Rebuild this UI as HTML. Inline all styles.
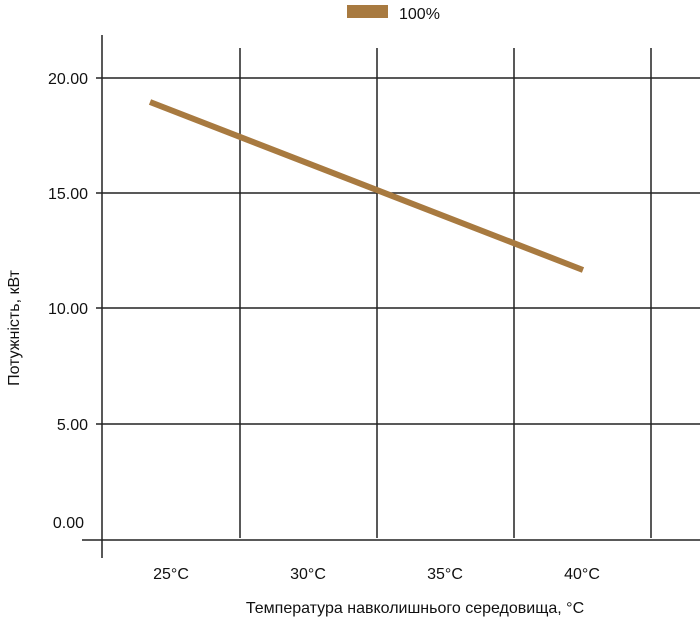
<!DOCTYPE html>
<html><head><style>body{margin:0;background:#fff}</style></head><body>
<svg width="700" height="624" xmlns="http://www.w3.org/2000/svg" font-family="Liberation Sans, sans-serif" font-size="16" fill="#111">
<rect width="700" height="624" fill="#fff"/>
<rect x="347" y="5" width="41" height="13" fill="#a87a40"/>
<text x="399" y="19">100%</text>
<g stroke="#222" stroke-width="1.5">
<line x1="96" y1="78" x2="700" y2="78"/>
<line x1="96" y1="193" x2="700" y2="193"/>
<line x1="96" y1="308" x2="700" y2="308"/>
<line x1="96" y1="424" x2="700" y2="424"/>
<line x1="82" y1="540" x2="700" y2="540"/>
<line x1="102" y1="35" x2="102" y2="558"/>
<line x1="240" y1="48" x2="240" y2="538"/>
<line x1="377" y1="48" x2="377" y2="538"/>
<line x1="514" y1="48" x2="514" y2="538"/>
<line x1="651" y1="48" x2="651" y2="538"/>
</g>
<line x1="150" y1="102" x2="583" y2="270" stroke="#a87a40" stroke-width="6"/>
<g text-anchor="end">
<text x="88" y="84">20.00</text>
<text x="88" y="199">15.00</text>
<text x="88" y="314">10.00</text>
<text x="88" y="430">5.00</text>
<text x="84" y="528">0.00</text>
</g>
<g text-anchor="middle">
<text x="171" y="579">25°C</text>
<text x="308" y="579">30°C</text>
<text x="445" y="579">35°C</text>
<text x="582" y="579">40°C</text>
<text x="415" y="613">Температура навколишнього середовища, °C</text>
<text transform="translate(19,328) rotate(-90)">Потужність, кВт</text>
</g>
</svg>
</body></html>
